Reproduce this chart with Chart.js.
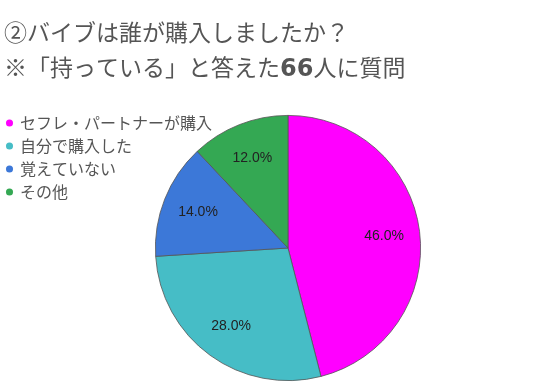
<!DOCTYPE html>
<html>
<head>
<meta charset="utf-8">
<script src="https://cdn.jsdelivr.net/npm/chart.js@4.4.1/dist/chart.umd.min.js"></script>
<style>
	html, body { margin: 0; padding: 0; background: #fff; }
	#wrap { width: 540px; height: 391px; position: relative; }
</style>
</head>
<body>
<div id="wrap"><canvas id="chartVibe"></canvas></div>
<script>
var titleLines = ['②バイブは誰が購入しましたか？', '※「持っている」と答えた66人に質問'];
var labels = ['セフレ・パートナーが購入', '自分で購入した', '覚えていない', 'その他'];
var shares = [46, 28, 14, 12];
var sliceColors = ['#ff00ff', '#46bdc6', '#3c78d8', '#34a853'];

var jpFont = '"Noto Sans CJK JP", "Noto Sans", sans-serif';

// two line heading, numbers in bold like the original
var heading = {
	id: 'heading',
	afterDraw: function(chart) {
		var ctx = chart.ctx;
		var baselines = [40.5, 75.5];
		ctx.save();
		ctx.fillStyle = '#555';
		ctx.textBaseline = 'alphabetic';
		ctx.textAlign = 'left';
		for (var i = 0; i < titleLines.length; i++) {
			var parts = titleLines[i].split(/(\d+)/);
			var x = 4;
			for (var j = 0; j < parts.length; j++) {
				if (!parts[j]) continue;
				if (/^\d+$/.test(parts[j])) {
					ctx.font = 'bold 24px "DejaVu Sans", sans-serif';
				} else {
					ctx.font = '23px ' + jpFont;
				}
				ctx.fillText(parts[j], x, baselines[i]);
				x += ctx.measureText(parts[j]).width;
			}
		}
		ctx.restore();
	}
};

// percentage text inside each slice
var sliceLabels = {
	id: 'sliceLabels',
	afterDatasetsDraw: function(chart) {
		var ctx = chart.ctx;
		var meta = chart.getDatasetMeta(0);
		var data = chart.data.datasets[0].data;
		var total = 0;
		for (var i = 0; i < data.length; i++) total += data[i];

		ctx.save();
		ctx.font = '14px "Liberation Sans", Arial, sans-serif';
		ctx.fillStyle = '#222';
		ctx.textAlign = 'center';
		ctx.textBaseline = 'middle';
		meta.data.forEach(function(arc, i) {
			var mid = (arc.startAngle + arc.endAngle) / 2;
			var r = arc.outerRadius * 0.73;
			var x = arc.x + Math.cos(mid) * r;
			var y = arc.y + Math.sin(mid) * r;
			ctx.fillText((data[i] / total * 100).toFixed(1) + '%', x, y);
		});
		ctx.restore();
	}
};

// legend sits over the top left corner, like the original sheet chart
var legendPlace = {
	id: 'legendPlace',
	afterLayout: function(chart) {
		var lg = chart.legend;
		var h = lg.height;
		lg.left = 0;
		lg.top = 108;
		lg.right = lg.left + lg.width;
		lg.bottom = lg.top + h;
	}
};

new Chart(document.getElementById('chartVibe'), {
	type: 'pie',
	data: {
		labels: labels,
		datasets: [{
			data: shares,
			backgroundColor: sliceColors,
			borderColor: '#555',
			borderWidth: 0.8
		}]
	},
	options: {
		responsive: true,
		maintainAspectRatio: false,
		animation: false,
		layout: {
			padding: { left: 36, right: 0, top: 115, bottom: 10 }
		},
		plugins: {
			tooltip: { enabled: false },
			title: { display: false },
			legend: {
				position: 'chartArea',
				align: 'start',
				labels: {
					usePointStyle: true,
					pointStyle: 'circle',
					boxWidth: 5,
					boxHeight: 5,
					padding: 7,
					color: '#555',
					font: { family: jpFont, size: 16 },
					generateLabels: function(chart) {
						var items = Chart.overrides.pie.plugins.legend.labels.generateLabels(chart);
						items.forEach(function(it) { it.lineWidth = 0; });
						return items;
					}
				}
			}
		}
	},
	plugins: [sliceLabels, legendPlace, heading]
});
</script>
</body>
</html>
